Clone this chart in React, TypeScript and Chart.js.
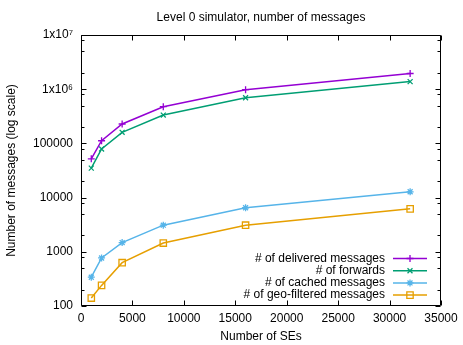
import React, { useEffect, useRef } from "react";
import { Chart, registerables } from "chart.js";

Chart.register(...registerables);

const seCounts = [1000, 2000, 4000, 8000, 16000, 32000];
const delivered = [52000, 112000, 228000, 475000, 980000, 1950000];
const forwards = [35000, 79000, 160000, 333000, 695000, 1380000];
const cached = [340, 770, 1480, 3100, 6500, 12800];
const geoFiltered = [140, 240, 630, 1450, 3100, 6200];

const chartTitle = "Level 0 simulator, number of messages";
const seriesNames = [
  "# of delivered messages",
  "# of forwards",
  "# of cached messages",
  "# of geo-filtered messages",
];
const seriesColors = ["#9400d3", "#009e73", "#56b4e9", "#e69f00"];
const seriesPoints = ["cross", "crossRot", "star", "rect"];

const yMajorTicks = [100, 1000, 10000, 100000, 1000000, 10000000];
const yTickLabels = ["100", "1000", "10000", "100000", "1x10\u2076", "1x10\u2077"];
const yMinorFactors = [2, 5, 8];
const xMajorTicks = [0, 5000, 10000, 15000, 20000, 25000, 30000, 35000];

const FONT = "'Liberation Sans', Arial, sans-serif";

function drawMarker(ctx: CanvasRenderingContext2D, style: string, x: number, y: number, r: number) {
  ctx.beginPath();
  if (style === "cross" || style === "star") {
    ctx.moveTo(x - r, y); ctx.lineTo(x + r, y);
    ctx.moveTo(x, y - r); ctx.lineTo(x, y + r);
  }
  if (style === "crossRot" || style === "star") {
    const d = r * Math.SQRT1_2;
    ctx.moveTo(x - d, y - d); ctx.lineTo(x + d, y + d);
    ctx.moveTo(x - d, y + d); ctx.lineTo(x + d, y - d);
  }
  if (style === "rect") {
    const s = r * Math.SQRT1_2;
    ctx.rect(x - s, y - s, 2 * s, 2 * s);
  }
  ctx.stroke();
}

const gnuplotFrame = {
  id: "gnuplotFrame",
  afterDatasetsDraw(chart: any) {
    const { ctx, chartArea, scales } = chart;
    const { left, right, top, bottom } = chartArea;
    const xs = scales.x;
    const ys = scales.y;
    ctx.save();
    ctx.strokeStyle = "#000";
    ctx.lineWidth = 1;
    ctx.beginPath();
    const L = Math.round(left) + 0.5;
    const R = Math.round(right) - 0.5;
    const T = Math.round(top) + 0.5;
    const B = Math.round(bottom) - 0.5;
    ctx.rect(L, T, R - L, B - T);
    ctx.stroke();

    ctx.beginPath();
    for (const v of xMajorTicks) {
      const px = Math.round(xs.getPixelForValue(v)) + 0.5;
      ctx.moveTo(px, B); ctx.lineTo(px, B - 5);
      ctx.moveTo(px, T); ctx.lineTo(px, T + 5);
    }
    for (const v of yMajorTicks) {
      const py = Math.round(ys.getPixelForValue(v)) + 0.5;
      ctx.moveTo(L, py); ctx.lineTo(L + 5, py);
      ctx.moveTo(R, py); ctx.lineTo(R - 5, py);
      if (v < 10000000) {
        for (const f of yMinorFactors) {
          const pm = Math.round(ys.getPixelForValue(v * f)) + 0.5;
          ctx.moveTo(L, pm); ctx.lineTo(L + 3, pm);
          ctx.moveTo(R, pm); ctx.lineTo(R - 3, pm);
        }
      }
    }
    ctx.stroke();

    // title, centred over the plot area
    ctx.font = "12px " + FONT;
    ctx.fillStyle = "#000";
    ctx.textAlign = "center";
    ctx.textBaseline = "middle";
    ctx.fillText(chartTitle, (left + right) / 2, 17.5);

    // legend
    ctx.textAlign = "right";
    seriesNames.forEach((name, i) => {
      const yy = 258.5 + i * 12.2;
      ctx.fillStyle = "#000";
      ctx.fillText(name, 385, yy);
      ctx.strokeStyle = seriesColors[i];
      ctx.lineWidth = 1.5;
      ctx.beginPath();
      ctx.moveTo(393, yy); ctx.lineTo(427, yy);
      ctx.stroke();
      ctx.lineWidth = 1.3;
      drawMarker(ctx, seriesPoints[i], 410, yy, seriesPoints[i] === "rect" ? 4.5 : 3.5);
    });
    ctx.restore();
  },
};

export default function App() {
  const ref = useRef<HTMLCanvasElement | null>(null);
  useEffect(() => {
    document.body.style.margin = "0";
    if (!ref.current) return;
    Chart.defaults.font.family = FONT;
    Chart.defaults.font.size = 12;
    Chart.defaults.color = "#000";
    const seriesData = [delivered, forwards, cached, geoFiltered];
    const chart = new Chart(ref.current, {
      type: "line",
      data: {
        datasets: seriesData.map((vals, i) => ({
          label: seriesNames[i],
          data: vals.map((v, j) => ({ x: seCounts[j], y: v })),
          borderColor: seriesColors[i],
          backgroundColor: "rgba(0,0,0,0)",
          borderWidth: 1.5,
          pointStyle: seriesPoints[i] as any,
          pointRadius: seriesPoints[i] === "rect" ? 4.5 : 3.5,
          pointBorderWidth: 1.3,
          pointBorderColor: seriesColors[i],
          pointBackgroundColor: "rgba(0,0,0,0)",
          tension: 0,
          fill: false,
        })),
      },
      options: {
        responsive: false,
        animation: false,
        devicePixelRatio: 1,
        layout: { padding: { left: 0, right: 22, top: 35, bottom: 0 } },
        plugins: {
          legend: { display: false },
          tooltip: { enabled: false },
          title: { display: false },
        },
        scales: {
          x: {
            type: "linear",
            min: 0,
            max: 35000,
            grid: { display: false, drawTicks: false },
            border: { display: false },
            ticks: {
              stepSize: 5000,
              padding: 5,
              autoSkip: false,
              maxRotation: 0,
              callback: (v: any) => String(v),
            },
            afterBuildTicks: (s: any) => {
              s.ticks = xMajorTicks.map((v) => ({ value: v }));
            },
            afterFit: (s: any) => {
              s.height = 39;
            },
            title: {
              display: true,
              text: "Number of SEs",
              font: { size: 12, family: FONT },
              padding: { top: 0, bottom: 1 },
            },
          },
          y: {
            type: "logarithmic",
            min: 100,
            max: 10000000,
            grid: { display: false, drawTicks: false },
            border: { display: false },
            ticks: {
              padding: 8,
              autoSkip: false,
              callback: (v: any) => {
                const idx = yMajorTicks.indexOf(Number(v));
                return idx >= 0 ? yTickLabels[idx] : "";
              },
            },
            afterBuildTicks: (s: any) => {
              s.ticks = yMajorTicks.map((v) => ({ value: v }));
            },
            afterFit: (s: any) => {
              s.width = 81;
            },
            title: {
              display: true,
              text: "Number of messages (log scale)",
              font: { size: 12, family: FONT },
              padding: { top: 4, bottom: 0 },
            },
          },
        },
      },
      plugins: [gnuplotFrame],
    });
    return () => chart.destroy();
  }, []);
  return (
    <div style={{ width: 463, height: 345 }}>
      <canvas ref={ref} width={463} height={345} style={{ display: "block", width: 463, height: 345 }} />
    </div>
  );
}
